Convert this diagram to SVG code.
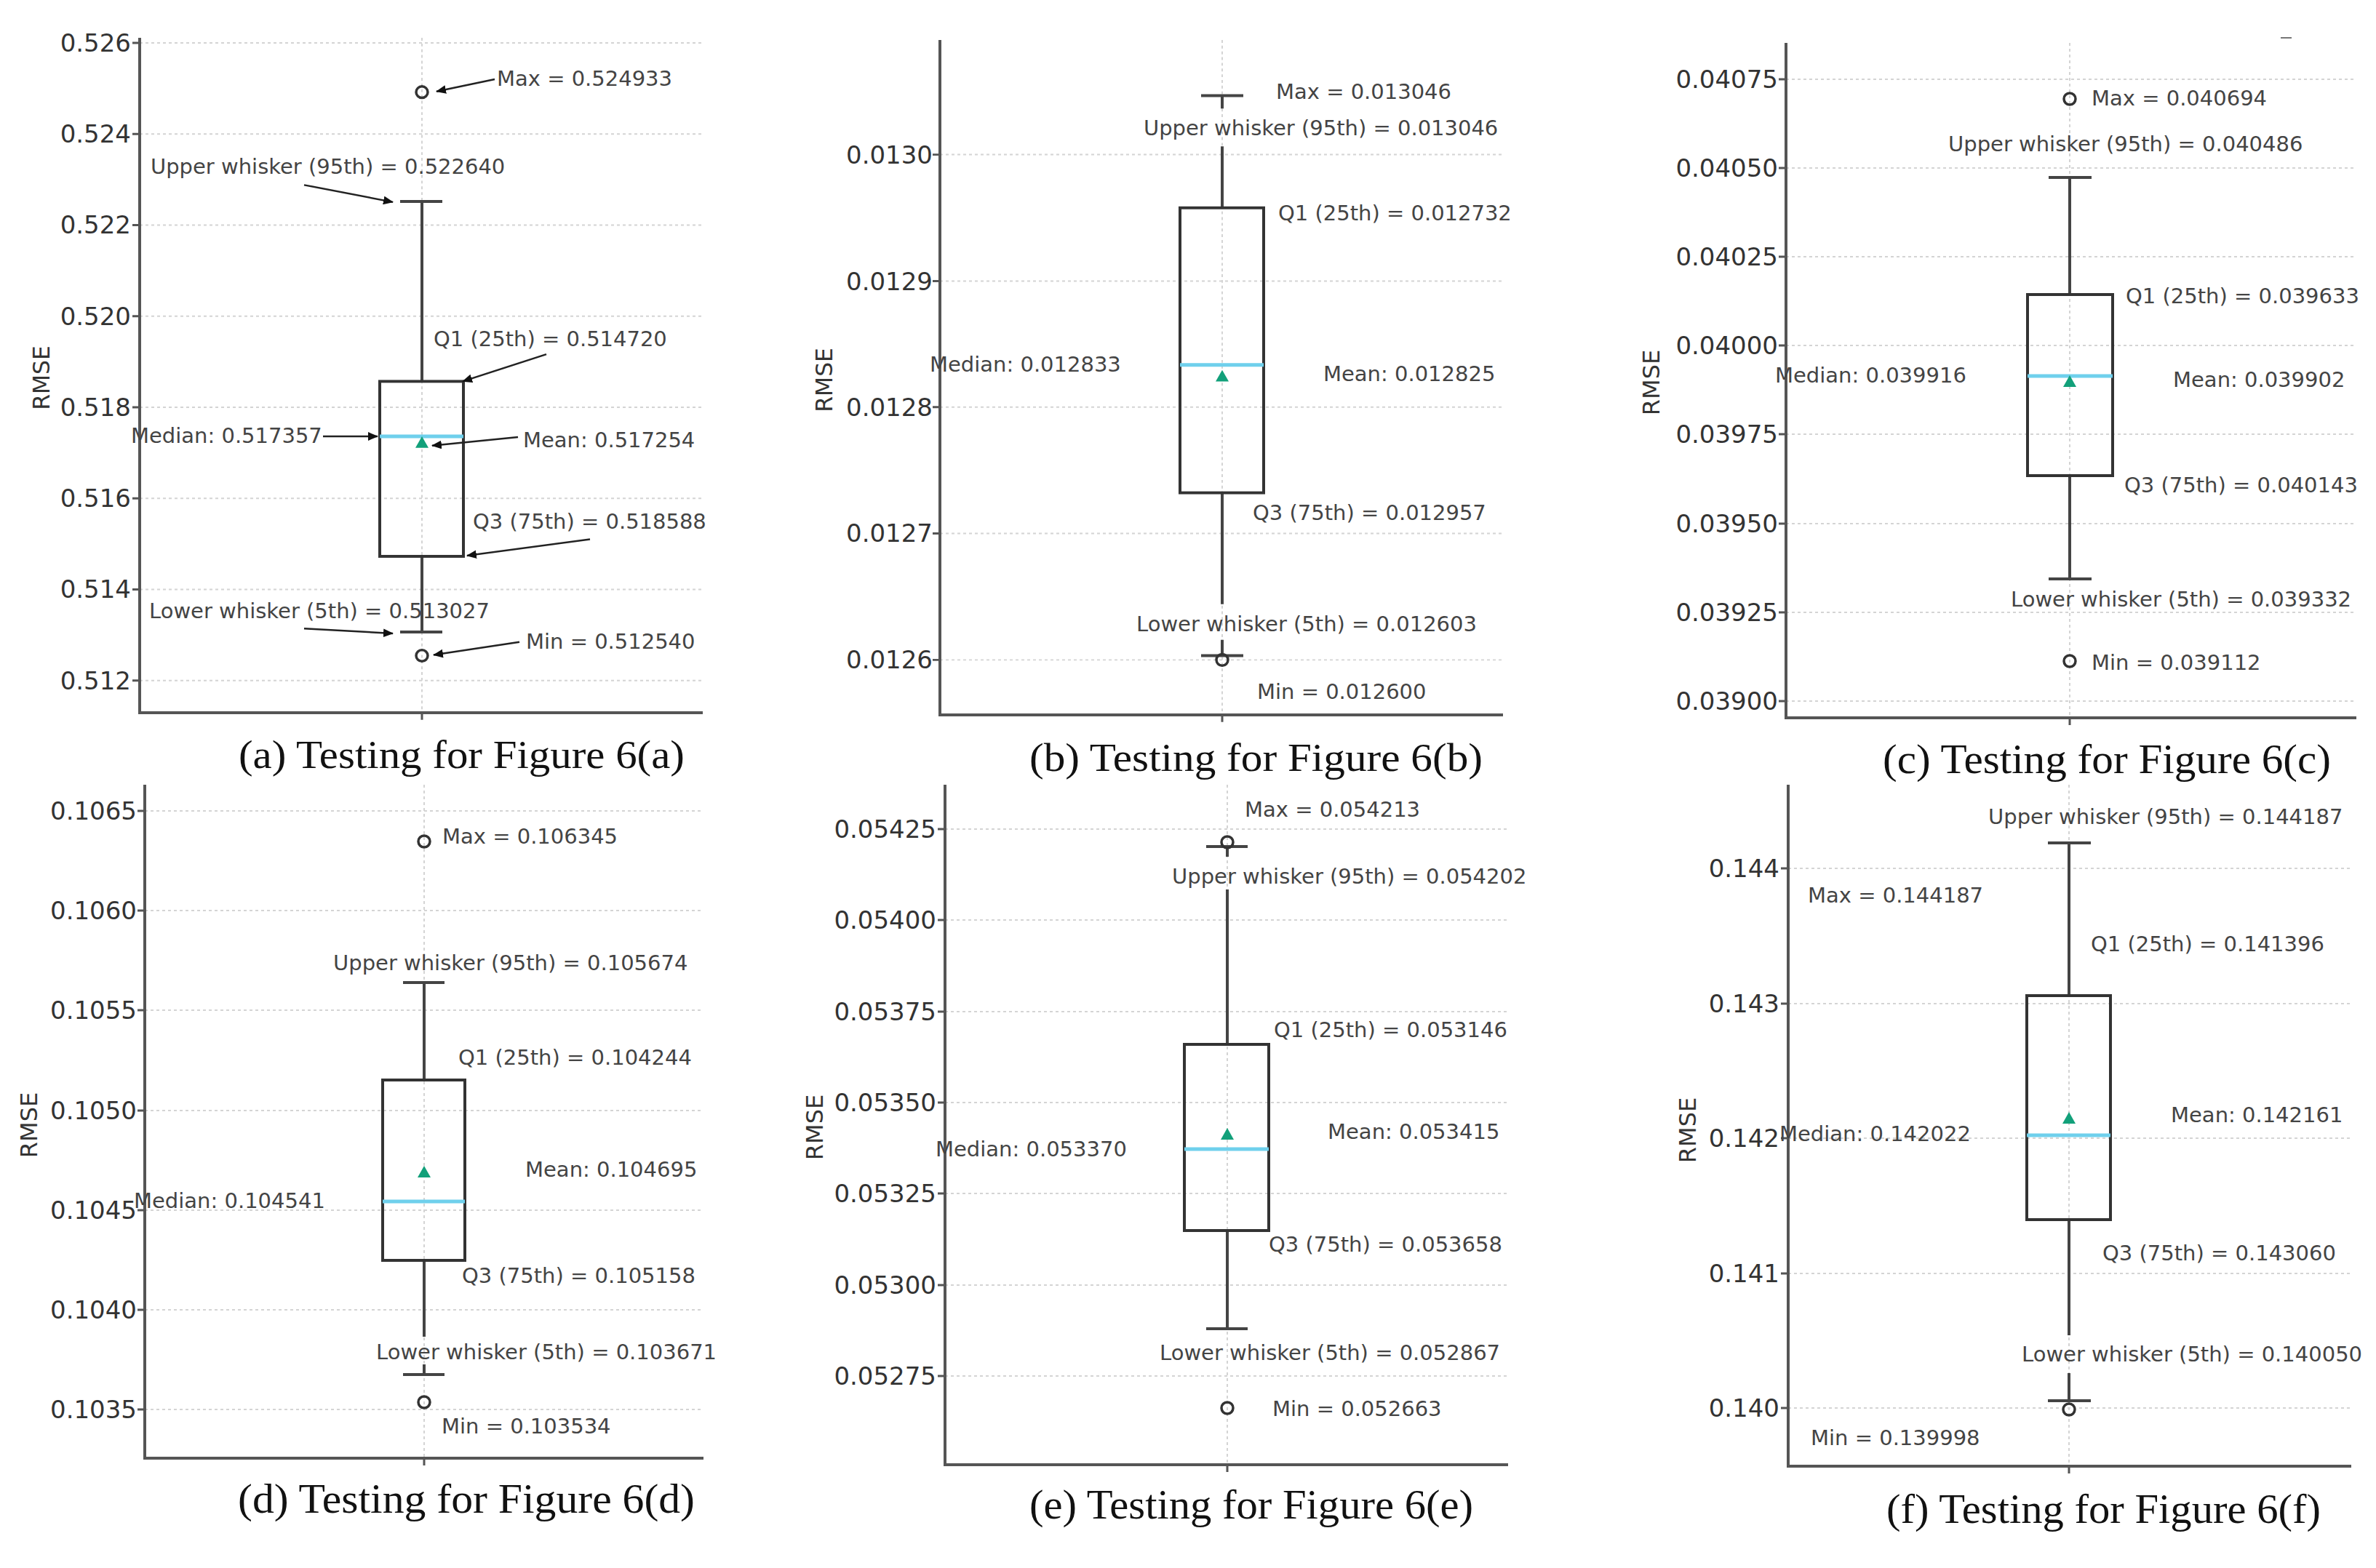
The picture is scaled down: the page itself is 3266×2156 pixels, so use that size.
<svg xmlns="http://www.w3.org/2000/svg" width="3266" height="2156" viewBox="0 0 3266 2156">
<style>
.ax{stroke:#555;stroke-width:4;fill:none}
.grid{stroke:#d4d4d4;stroke-width:2;stroke-dasharray:4 4;fill:none}
.tk{stroke:#555;stroke-width:3}
.tl{font-family:"DejaVu Sans",sans-serif;font-size:34px;fill:#333;text-anchor:end}
.lb{font-family:"DejaVu Sans",sans-serif;font-size:29px;fill:#444}
.box{stroke:#333;stroke-width:4;fill:none}
.wh{stroke:#444;stroke-width:4;fill:none}
.med{stroke:#6fd0ec;stroke-width:5}
.mean{fill:#12a07a}
.out{fill:none;stroke:#333;stroke-width:3.5}
.cap{font-family:"Liberation Serif",serif;font-size:56px;fill:#111}
.rm{font-family:"DejaVu Sans",sans-serif;font-size:32px;fill:#333;text-anchor:middle}
.arr{stroke:#222;stroke-width:2.5;fill:none;marker-end:url(#ah)}
</style>
<defs>
<marker id="ah" markerWidth="14" markerHeight="12" refX="13" refY="6" orient="auto" markerUnits="userSpaceOnUse" viewBox="0 0 14 12"><path d="M0,0 L14,6 L0,12 z" fill="#111"/></marker>
</defs>
<rect width="3266" height="2156" fill="#fff"/>

<!-- Panel a -->
<g id="panel-a" transform="matrix(1 0 0 0.982 0 0)">
<g class="grid"><path d="M192 60H966M192 187.6H966M192 315.1H966M192 442.7H966M192 570.3H966M192 697.9H966M192 825.4H966M192 953H966M580 53V998"/></g>
<g class="tk"><path d="M182 60H192M182 187.6H192M182 315.1H192M182 442.7H192M182 570.3H192M182 697.9H192M182 825.4H192M182 953H192M580 998V1008"/></g>
<g class="tl"><text x="180" y="72">0.526</text><text x="180" y="200">0.524</text><text x="180" y="327">0.522</text><text x="180" y="455">0.520</text><text x="180" y="582">0.518</text><text x="180" y="710">0.516</text><text x="180" y="837">0.514</text><text x="180" y="965">0.512</text></g>
<path class="ax" d="M192 53V998H966"/>
<text class="rm" transform="translate(68 529) rotate(-90)">RMSE</text>
<path class="wh" d="M580 282V534M550 282H608M580 779V885M550 885H608"/>
<rect class="box" x="522" y="534" width="115" height="245"/>
<line class="med" x1="522" y1="611" x2="637" y2="611"/>
<path class="mean" d="M580 611L589 627H571z"/>
<circle class="out" cx="580" cy="129" r="8"/><circle class="out" cx="580" cy="918" r="8"/>
<g class="lb"><text x="683" y="120">Max = 0.524933</text><text x="207" y="243">Upper whisker (95th) = 0.522640</text><text x="596" y="485">Q1 (25th) = 0.514720</text><text x="180" y="620">Median: 0.517357</text><text x="719" y="626">Mean: 0.517254</text><text x="650" y="740">Q3 (75th) = 0.518588</text><text x="205" y="866">Lower whisker (5th) = 0.513027</text><text x="723" y="908">Min = 0.512540</text></g>
<g id="arrows-a"><path class="arr" d="M680 111L600 128"/><path class="arr" d="M418 259L540 283"/><path class="arr" d="M751 496L636 534"/><path class="arr" d="M444 611L519 611"/><path class="arr" d="M712 612L594 624"/><path class="arr" d="M811 755L642 778"/><path class="arr" d="M418 880L540 887"/><path class="arr" d="M714 899L596 917"/></g>
<text class="cap" x="328" y="1075" textLength="613" lengthAdjust="spacingAndGlyphs">(a) Testing for Figure 6(a)</text>
</g>

<!-- Panel b -->
<g id="panel-b" transform="matrix(1 0 0 0.982 0 0)">
<g class="grid"><path d="M1292 216.5H2066M1292 393.5H2066M1292 570H2066M1292 747H2066M1292 924H2066M1680 56V1001"/></g>
<g class="tk"><path d="M1282 216.5H1292M1282 393.5H1292M1282 570H1292M1282 747H1292M1282 924H1292M1680 1001V1011"/></g>
<g class="tl"><text x="1282" y="229">0.0130</text><text x="1282" y="406">0.0129</text><text x="1282" y="582">0.0128</text><text x="1282" y="759">0.0127</text><text x="1282" y="936">0.0126</text></g>
<path class="ax" d="M1292 56V1001H2066"/>
<text class="rm" transform="translate(1144 532) rotate(-90)">RMSE</text>
<path class="wh" d="M1680 134V152M1680 205V291M1651 134H1709M1680 690V846M1680 896V918M1651 918H1709"/>
<rect class="box" x="1622" y="291" width="115" height="399"/>
<line class="med" x1="1622" y1="511" x2="1737" y2="511"/>
<path class="mean" d="M1680 518L1689 534H1671z"/>
<circle class="out" cx="1680" cy="924" r="8"/>
<g class="lb"><text x="1754" y="139">Max = 0.013046</text><text x="1572" y="189">Upper whisker (95th) = 0.013046</text><text x="1757" y="309">Q1 (25th) = 0.012732</text><text x="1278" y="520">Median: 0.012833</text><text x="1819" y="534">Mean: 0.012825</text><text x="1722" y="728">Q3 (75th) = 0.012957</text><text x="1562" y="884">Lower whisker (5th) = 0.012603</text><text x="1728" y="979">Min = 0.012600</text></g>
<text class="cap" x="1415" y="1079" textLength="623" lengthAdjust="spacingAndGlyphs">(b) Testing for Figure 6(b)</text>
</g>

<!-- Panel c -->
<g id="panel-c">
<g class="grid"><path d="M2455 109H3239M2455 231H3239M2455 353H3239M2455 475H3239M2455 597H3239M2455 720H3239M2455 842H3239M2455 964H3239M2845 59V987"/></g>
<g class="tk"><path d="M2445 109H2455M2445 231H2455M2445 353H2455M2445 475H2455M2445 597H2455M2445 720H2455M2445 842H2455M2445 964H2455M2845 987V997"/></g>
<g class="tl"><text x="2444" y="121">0.04075</text><text x="2444" y="243">0.04050</text><text x="2444" y="365">0.04025</text><text x="2444" y="487">0.04000</text><text x="2444" y="609">0.03975</text><text x="2444" y="732">0.03950</text><text x="2444" y="854">0.03925</text><text x="2444" y="976">0.03900</text></g>
<path class="ax" d="M2455 59V987H3239"/>
<path d="M3135 52H3150" stroke="#777" stroke-width="2"/>
<text class="rm" transform="translate(2281 526) rotate(-90)">RMSE</text>
<path class="wh" d="M2845 244V405M2816 244H2875M2845 654V796M2816 796H2875"/>
<rect class="box" x="2787" y="405" width="117" height="249"/>
<line class="med" x1="2787" y1="517" x2="2904" y2="517"/>
<path class="mean" d="M2845 516L2854 532H2836z"/>
<circle class="out" cx="2845" cy="136" r="8"/><circle class="out" cx="2845" cy="909" r="8"/>
<g class="lb"><text x="2875" y="145">Max = 0.040694</text><text x="2678" y="208">Upper whisker (95th) = 0.040486</text><text x="2922" y="417">Q1 (25th) = 0.039633</text><text x="2440" y="526">Median: 0.039916</text><text x="2987" y="532">Mean: 0.039902</text><text x="2920" y="677">Q3 (75th) = 0.040143</text><text x="2764" y="834">Lower whisker (5th) = 0.039332</text><text x="2875" y="921">Min = 0.039112</text></g>
<text class="cap" x="2588" y="1063" textLength="616" lengthAdjust="spacingAndGlyphs">(c) Testing for Figure 6(c)</text>
</g>

<!-- Panel d -->
<g id="panel-d">
<g class="grid"><path d="M199 1115H967M199 1252H967M199 1389H967M199 1527H967M199 1664H967M199 1801H967M199 1938H967M583 1079V2005"/></g>
<g class="tk"><path d="M189 1115H199M189 1252H199M189 1389H199M189 1527H199M189 1664H199M189 1801H199M189 1938H199M583 2005V2015"/></g>
<g class="tl"><text x="188" y="1127">0.1065</text><text x="188" y="1264">0.1060</text><text x="188" y="1401">0.1055</text><text x="188" y="1539">0.1050</text><text x="188" y="1676">0.1045</text><text x="188" y="1813">0.1040</text><text x="188" y="1950">0.1035</text></g>
<path class="ax" d="M199 1079V2005H967"/>
<text class="rm" transform="translate(51 1547) rotate(-90)">RMSE</text>
<path class="wh" d="M583 1351V1485M554 1351H611M583 1733V1838M583 1876V1890M554 1890H611"/>
<rect class="box" x="526" y="1485" width="113" height="248"/>
<line class="med" x1="526" y1="1652" x2="639" y2="1652"/>
<path class="mean" d="M583 1603L592 1619H574z"/>
<circle class="out" cx="583" cy="1157" r="8"/><circle class="out" cx="583" cy="1928" r="8"/>
<g class="lb"><text x="608" y="1160">Max = 0.106345</text><text x="458" y="1334">Upper whisker (95th) = 0.105674</text><text x="630" y="1464">Q1 (25th) = 0.104244</text><text x="722" y="1618">Mean: 0.104695</text><text x="184" y="1661">Median: 0.104541</text><text x="635" y="1764">Q3 (75th) = 0.105158</text><text x="517" y="1869">Lower whisker (5th) = 0.103671</text><text x="607" y="1971">Min = 0.103534</text></g>
<text class="cap" x="327" y="2080" textLength="628" lengthAdjust="spacingAndGlyphs">(d) Testing for Figure 6(d)</text>
</g>

<!-- Panel e -->
<g id="panel-e">
<g class="grid"><path d="M1299 1140H2073M1299 1265H2073M1299 1391H2073M1299 1516H2073M1299 1641H2073M1299 1767H2073M1299 1892H2073M1687 1079V2014"/></g>
<g class="tk"><path d="M1289 1140H1299M1289 1265H1299M1289 1391H1299M1289 1516H1299M1289 1641H1299M1289 1767H1299M1289 1892H1299M1687 2014V2024"/></g>
<g class="tl"><text x="1287" y="1152">0.05425</text><text x="1287" y="1277">0.05400</text><text x="1287" y="1403">0.05375</text><text x="1287" y="1528">0.05350</text><text x="1287" y="1653">0.05325</text><text x="1287" y="1779">0.05300</text><text x="1287" y="1904">0.05275</text></g>
<path class="ax" d="M1299 1079V2014H2073"/>
<text class="rm" transform="translate(1131 1550) rotate(-90)">RMSE</text>
<path class="wh" d="M1687 1164V1178M1687 1223V1436M1658 1164H1715M1687 1692V1827M1658 1827H1715"/>
<rect class="box" x="1628" y="1436" width="116" height="256"/>
<line class="med" x1="1628" y1="1580" x2="1744" y2="1580"/>
<path class="mean" d="M1687 1551L1696 1567H1678z"/>
<circle class="out" cx="1687" cy="1158" r="8"/><circle class="out" cx="1687" cy="1936" r="8"/>
<g class="lb"><text x="1711" y="1123">Max = 0.054213</text><text x="1611" y="1215">Upper whisker (95th) = 0.054202</text><text x="1751" y="1426">Q1 (25th) = 0.053146</text><text x="1825" y="1566">Mean: 0.053415</text><text x="1286" y="1590">Median: 0.053370</text><text x="1744" y="1721">Q3 (75th) = 0.053658</text><text x="1594" y="1870">Lower whisker (5th) = 0.052867</text><text x="1749" y="1947">Min = 0.052663</text></g>
<text class="cap" x="1415" y="2088" textLength="610" lengthAdjust="spacingAndGlyphs">(e) Testing for Figure 6(e)</text>
</g>

<!-- Panel f -->
<g id="panel-f">
<g class="grid"><path d="M2458 1194H3232M2458 1380H3232M2458 1565H3232M2458 1751H3232M2458 1936H3232M2844 1079V2016"/></g>
<g class="tk"><path d="M2448 1194H2458M2448 1380H2458M2448 1565H2458M2448 1751H2458M2448 1936H2458M2844 2016V2026"/></g>
<g class="tl"><text x="2446" y="1206">0.144</text><text x="2446" y="1392">0.143</text><text x="2446" y="1577">0.142</text><text x="2446" y="1763">0.141</text><text x="2446" y="1948">0.140</text></g>
<path class="ax" d="M2458 1079V2016H3232"/>
<text class="rm" transform="translate(2331 1554) rotate(-90)">RMSE</text>
<path class="wh" d="M2844 1159V1369M2815 1159H2874M2844 1677V1836M2844 1888V1926M2815 1926H2874"/>
<rect class="box" x="2786" y="1369" width="115" height="308"/>
<line class="med" x1="2786" y1="1561" x2="2901" y2="1561"/>
<path class="mean" d="M2844 1529L2853 1545H2835z"/>
<circle class="out" cx="2844" cy="1938" r="8"/>
<g class="lb"><text x="2733" y="1133">Upper whisker (95th) = 0.144187</text><text x="2485" y="1241">Max = 0.144187</text><text x="2874" y="1308">Q1 (25th) = 0.141396</text><text x="2984" y="1543">Mean: 0.142161</text><text x="2446" y="1569">Median: 0.142022</text><text x="2890" y="1733">Q3 (75th) = 0.143060</text><text x="2779" y="1872">Lower whisker (5th) = 0.140050</text><text x="2489" y="1987">Min = 0.139998</text></g>
<text class="cap" x="2593" y="2094" textLength="597" lengthAdjust="spacingAndGlyphs">(f) Testing for Figure 6(f)</text>
</g>
</svg>
